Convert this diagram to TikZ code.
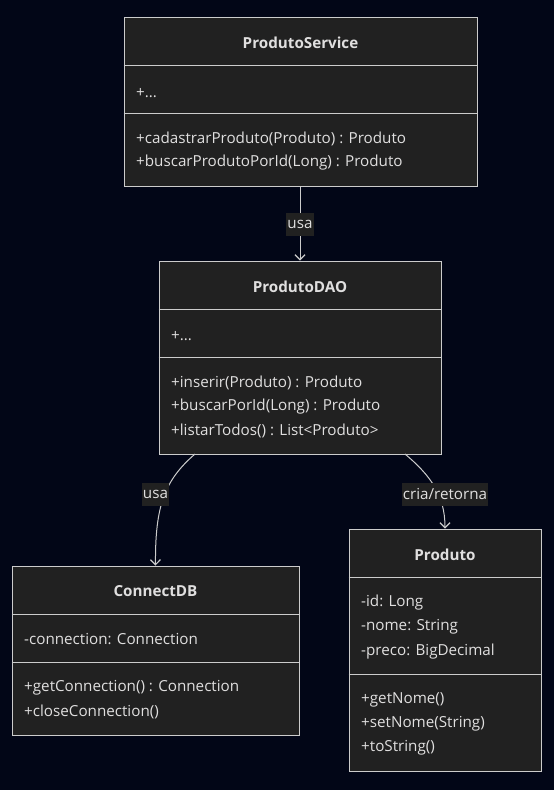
\documentclass[tikz,border=0pt]{standalone}
\usepackage{fontspec}
\setmainfont{Open Sans}
\usetikzlibrary{positioning,calc,arrows.meta}
\definecolor{bg}{HTML}{020617}
\definecolor{boxfill}{HTML}{212121}
\definecolor{boxline}{HTML}{CCCCCC}
\definecolor{txt}{HTML}{E0DFDF}
\tikzset{>={Straight Barb[length=5pt,width=10pt,line width=1.2pt]}}
\tikzset{
  classbox/.style={draw=boxline,fill=boxfill,line width=1pt,inner sep=0pt},
  title/.style={text=txt,font=\fontsize{15.2}{18}\selectfont\bfseries,inner sep=0pt},
  member/.style={text=txt,font=\fontsize{15.2}{18}\selectfont,inner sep=0pt,anchor=west},
  rel/.style={draw=boxline,line width=1pt,->},
  rellabel/.style={fill=boxfill,text=txt,font=\fontsize{15.2}{18}\selectfont,inner xsep=1pt,inner ysep=0pt,minimum height=23pt}
}

\begin{document}
\begin{tikzpicture}[x=1pt,y=-1pt]
\useasboundingbox[fill=bg] (0,0) rectangle (554,790);
% classes
\node[classbox,minimum width=353pt,minimum height=169pt] (srv) at (300.5,101.5) {};
\node[classbox,minimum width=282pt,minimum height=193pt] (dao) at (300,357.5) {};
\node[classbox,minimum width=287pt,minimum height=169pt] (cdb) at (155.5,650.5) {};
\node[classbox,minimum width=192pt,minimum height=242pt] (prod) at (445,650) {};
% dividers
\draw[boxline,line width=1pt] (srv.west |- 0,65) -- (srv.east |- 0,65);
\draw[boxline,line width=1pt] (srv.west |- 0,113) -- (srv.east |- 0,113);
\draw[boxline,line width=1pt] (dao.west |- 0,309) -- (dao.east |- 0,309);
\draw[boxline,line width=1pt] (dao.west |- 0,357) -- (dao.east |- 0,357);
\draw[boxline,line width=1pt] (cdb.west |- 0,614) -- (cdb.east |- 0,614);
\draw[boxline,line width=1pt] (cdb.west |- 0,662) -- (cdb.east |- 0,662);
\draw[boxline,line width=1pt] (prod.west |- 0,577) -- (prod.east |- 0,577);
\draw[boxline,line width=1pt] (prod.west |- 0,674) -- (prod.east |- 0,674);
% ProdutoService
\node[title] (srvname) at (300.5,43) {ProdutoService};
\node[member] (srvattr) at (136,93) {+...};
\node[member] (srvm1) at (136,139) {+cadastrarProduto(Produto) : Produto};
\node[member] (srvm2) at (136,163) {+buscarProdutoPorId(Long) : Produto};
% ProdutoDAO
\node[title] (daoname) at (300,287) {ProdutoDAO};
\node[member] (daoattr) at (171,336) {+...};
\node[member] (daom1) at (171,383) {+inserir(Produto) : Produto};
\node[member] (daom2) at (171,407) {+buscarPorId(Long) : Produto};
\node[member] (daom3) at (171,431) {+listarTodos() : List<Produto>};
% ConnectDB
\node[title] (cdbname) at (155.5,591) {ConnectDB};
\node[member] (cdbattr) at (24,639) {-connection: Connection};
\node[member] (cdbm1) at (24,688) {+getConnection() : Connection};
\node[member] (cdbm2) at (24,712) {+closeConnection()};
% Produto
\node[title] (prodname) at (445,555) {Produto};
\node[member] (proda1) at (361,603) {-id: Long};
\node[member] (proda2) at (361,627) {-nome: String};
\node[member] (proda3) at (361,652) {-preco: BigDecimal};
\node[member] (prodm1) at (361,700) {+getNome()};
\node[member] (prodm2) at (361,724) {+setNome(String)};
\node[member] (prodm3) at (361,748) {+toString()};
% relations
\coordinate (daoL) at (195,454);
\coordinate (daoR) at (405,454);
\draw[rel] (srv.south -| dao.north) -- (dao.north);
\node[rellabel] (usa1) at (300,224.5) {usa};
\draw[rel] (daoL) .. controls (165,480) and (155,505) .. (cdb.north);
\node[rellabel] (usa2) at (155.5,494) {usa};
\draw[rel] (daoR) .. controls (430,475) and (445,495) .. (prod.north);
\node[rellabel] (cria) at (445,494) {cria/retorna};
\end{tikzpicture}
\end{document}
